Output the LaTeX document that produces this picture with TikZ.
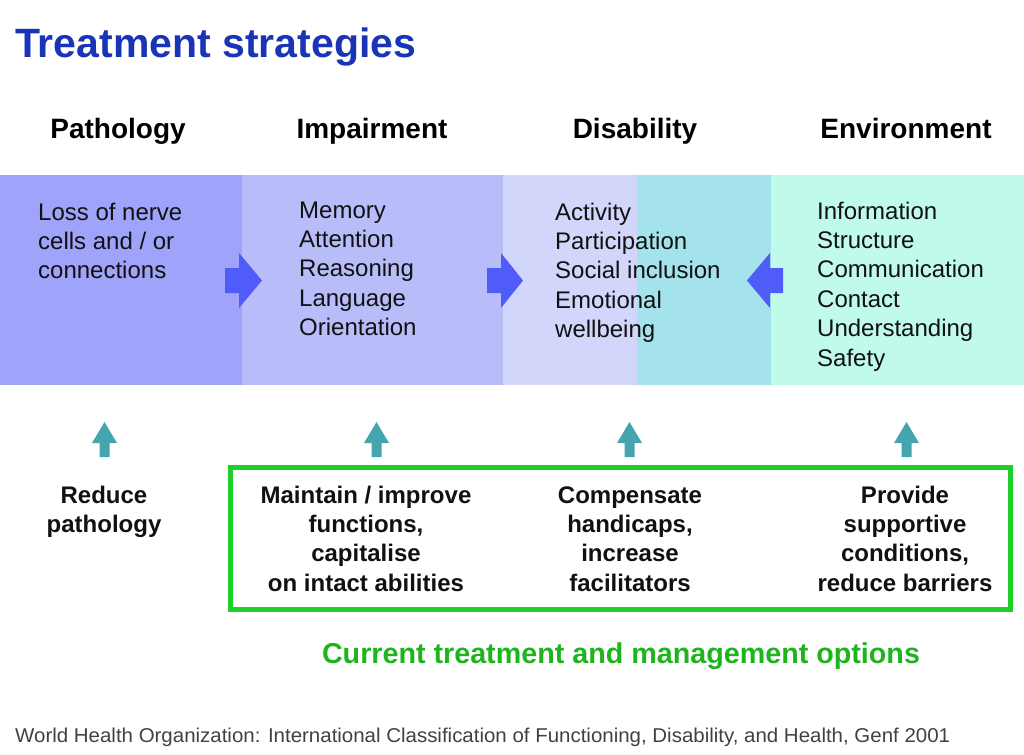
\documentclass[tikz,border=0pt]{standalone}
\usepackage{fontspec}
\setmainfont{Liberation Sans}
\usepackage{graphicx}
\definecolor{titleblue}{RGB}{26,52,184}
\definecolor{pathcol}{RGB}{159,163,249}
\definecolor{impcol}{RGB}{184,189,250}
\definecolor{discol}{RGB}{211,214,251}
\definecolor{overcol}{RGB}{165,227,236}
\definecolor{envcol}{RGB}{192,250,234}
\definecolor{barrow}{RGB}{80,92,248}
\definecolor{tarrow}{RGB}{69,165,174}
\definecolor{boxgreen}{RGB}{28,208,40}
\definecolor{txtgreen}{RGB}{30,180,30}
\definecolor{ink}{RGB}{17,17,17}
\tikzset{
  header/.style={font=\fontsize{28}{30}\selectfont\bfseries, text=black, inner sep=0pt, anchor=base},
  listtext/.style={font=\fontsize{24}{29.4}\selectfont, text=ink, inner sep=0pt, align=left, anchor=base west},
  action/.style={font=\fontsize{24}{29.4}\selectfont\bfseries, text=ink, inner sep=0pt, align=center, anchor=base},
  bigarrow/.style={fill=barrow},
  uparrow/.style={fill=tarrow},
}
\begin{document}
\begin{tikzpicture}[x=1pt,y=-1pt]
\useasboundingbox (0,0) rectangle (1024,754);
% title
\node[font=\fontsize{41}{44}\selectfont\bfseries, text=titleblue, inner sep=0pt, anchor=base west] (title) at (15,58) {Treatment strategies};
% headers
\node[header] (hpath) at (118,139) {Pathology};
\node[header] (himp) at (372,139) {Impairment};
\node[header] (hdis) at (635,139) {Disability};
\node[header] (henv) at (906,139) {Environment};
% bands
\fill[pathcol] (0,175) rectangle (242,385);
\fill[impcol] (242,175) rectangle (503,385);
\fill[discol] (503,175) rectangle (637,385);
\fill[overcol] (637,175) rectangle (771,385);
\fill[envcol] (771,175) rectangle (1024,385);
% band texts (anchor = baseline of last line)
\node[listtext] (tpath) at (38,278.8) {Loss of nerve\\cells and / or\\connections};
\node[listtext] (timp) at (299,335.6) {Memory\\Attention\\Reasoning\\Language\\Orientation};
\node[listtext] (tdis) at (555,337.6) {Activity\\Participation\\Social inclusion\\Emotional\\wellbeing};
\node[listtext] (tenv) at (817,366) {Information\\Structure\\Communication\\Contact\\Understanding\\Safety};
% block arrows
\fill[bigarrow] (225,268) -- (239,268) -- (239,253) -- (262,280.5) -- (239,308) -- (239,293) -- (225,293) -- cycle;
\fill[bigarrow] (487,268) -- (501,268) -- (501,253) -- (523,280.5) -- (501,308) -- (501,293) -- (487,293) -- cycle;
\fill[bigarrow] (783,268) -- (770,268) -- (770,253) -- (747,280.5) -- (770,308) -- (770,293) -- (783,293) -- cycle;
% up arrows
\foreach \c in {104.5,376.5,629.5,906.5}{
  \fill[uparrow] (\c,422) -- (\c+12.5,443) -- (\c+5,443) -- (\c+5,457) -- (\c-5,457) -- (\c-5,443) -- (\c-12.5,443) -- cycle;
}
% green box
\draw[boxgreen, line width=5pt] (230.5,467) rectangle (1010.5,609.5);
% actions (anchor = baseline of last line)
\node[action] (a1) at (104,532.4) {Reduce\\pathology};
\node[action] (a2) at (366,591.2) {Maintain / improve\\functions,\\capitalise\\on intact abilities};
\node[action] (a3) at (630,591.2) {Compensate\\handicaps,\\increase\\facilitators};
\node[action] (a4) at (905,591.2) {Provide\\supportive\\conditions,\\reduce barriers};
\node[font=\fontsize{28.7}{30}\selectfont\bfseries, text=txtgreen, inner sep=0pt, anchor=base] (opts) at (621,663) {Current treatment and management options};
% footer
\node[font=\fontsize{20}{22}\selectfont, text=ink!80, inner sep=0pt, anchor=base west] (src) at (15,742) {\resizebox{935pt}{\height}{World Health Organization: International Classification of Functioning, Disability, and Health, Genf 2001}};
\end{tikzpicture}
\end{document}
